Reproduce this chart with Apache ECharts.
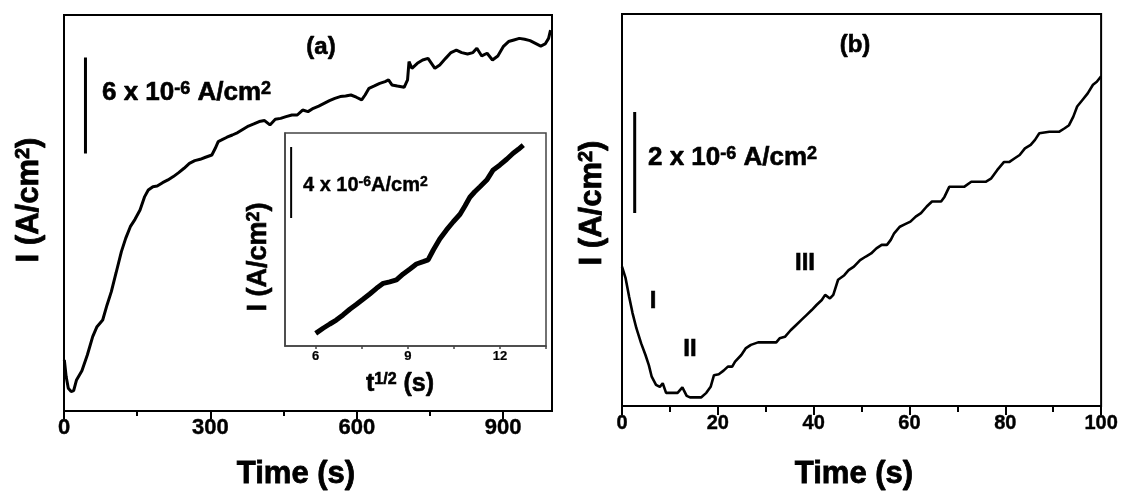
<!DOCTYPE html>
<html>
<head>
<meta charset="utf-8">
<script src="https://cdn.jsdelivr.net/npm/echarts@6/dist/echarts.min.js"></script>
<style>html,body{margin:0;padding:0;background:#fff}#c{width:1121px;height:493px}</style>
</head>
<body>
<div id="c"></div>
<script>
// Panel (a): chronoamperometric current vs time (I in µA/cm², arbitrary baseline)
const aTime = [0.7,4.4,8.8,14.7,19.8,25.7,36.7,47.8,58.8,67.6,79.3,88.2,97,106.5,117.6,126.4,135.9,145.5,155.8,165.3,172.7,182.2,191,202,213,224,235,246,257,268,279,290,303,310,316,323,334,345,356,367,378,389,400,411,422,433,444,455,467,478,489,500,511,522,533,544,555,566,577,588,599,610,617,625,636,647,658,665,672,683,697,704,707,713,724,735,746,753,760,770,782,793,804,815,827,838,846,856,867,878,889,900,911,922,933,944,955,966,977,986,993,997];
const aCurrent = [3.19,2.15,1.42,1.21,1.27,1.94,2.52,3.50,4.65,5.27,5.69,6.63,7.46,8.61,9.96,10.79,11.52,11.98,12.56,13.40,13.81,14.02,14.06,14.27,14.44,14.65,14.90,15.17,15.48,15.65,15.73,15.86,16.00,16.42,16.84,16.94,17.11,17.25,17.40,17.61,17.81,17.94,18.09,18.15,17.88,18.23,18.29,18.40,18.50,18.50,18.81,18.71,18.92,19.06,19.23,19.40,19.54,19.65,19.69,19.75,19.61,19.44,19.75,20.17,20.32,20.48,20.59,20.69,20.38,20.31,20.23,20.69,21.84,21.42,21.73,21.94,22.04,21.73,21.42,21.63,22.04,22.40,22.56,22.40,22.31,22.40,22.67,22.19,22.36,21.94,22.19,22.77,23.09,23.19,23.29,23.23,23.15,22.98,22.81,22.94,23.29,23.81];
// Inset: current vs t^(1/2)
const insetSqrtT = [6.0,6.24,6.46,6.67,6.89,7.11,7.33,7.54,7.76,7.98,8.20,8.41,8.63,8.85,9.07,9.28,9.50,9.66,9.83,10.04,10.26,10.48,10.70,10.86,11.02,11.18,11.35,11.57,11.78,12.00,12.22,12.43,12.60,12.76];
const insetCurrent = [0.71,1.00,1.24,1.46,1.75,2.07,2.35,2.63,2.93,3.25,3.53,3.61,3.72,4.06,4.34,4.62,4.75,4.85,5.41,6.03,6.54,7.00,7.42,7.89,8.38,8.69,8.97,9.35,9.92,10.20,10.52,10.86,11.08,11.32];
// Panel (b): current vs time, first 100 s
const bTime = [0,0.75,1.5,2.2,3.0,4.0,4.9,5.6,6.2,7.1,7.9,8.5,9.2,11.6,12.6,13.5,14.2,16.5,17.6,18.5,19.2,20.2,21.2,22.1,23.0,23.6,24.9,25.8,26.9,28.4,32.2,32.9,34.0,35.2,36.3,37.4,38.5,39.6,40.6,41.7,42.4,43.4,44.1,45.1,46.4,47.3,48.4,49.7,50.9,52.0,53.1,54.2,55.3,56.1,56.8,58.0,59.1,60.2,61.3,62.4,63.6,64.7,66.6,67.3,68.3,71.4,72.9,75.9,77.0,78.3,79.7,80.8,81.9,83.0,84.1,85.3,86.2,87.1,89.2,91.2,92.4,93.3,94.2,95.0,96.1,97.2,98.3,99.1,100];
const bCurrent = [2.76,2.53,2.16,1.84,1.54,1.24,1.01,0.81,0.58,0.42,0.38,0.45,0.26,0.26,0.37,0.20,0.17,0.17,0.26,0.38,0.61,0.63,0.70,0.78,0.78,0.88,1.01,1.14,1.21,1.26,1.26,1.34,1.37,1.50,1.60,1.70,1.80,1.90,2.00,2.10,2.20,2.13,2.20,2.50,2.59,2.69,2.76,2.89,2.96,3.02,3.12,3.19,3.19,3.29,3.42,3.55,3.60,3.65,3.75,3.82,3.95,4.05,4.05,4.14,4.34,4.34,4.44,4.44,4.50,4.67,4.83,4.83,4.90,4.97,5.10,5.17,5.27,5.40,5.43,5.43,5.50,5.56,5.73,5.93,6.06,6.19,6.36,6.42,6.53];
// Scale bars [x, yStart, length]
const aScaleBar = [44, 16.1, 6];
const bScaleBar = [2.65, 3.82, 2];
const insetScaleBar = [5.2, 7.21, 4];
// Tick labels
const aTicks = [0, 300, 600, 900];
const aMinorTicks = [150, 450, 750];
const insetLabels = [6, 9, 12];
const insetTicks = [6, 7.5, 9, 10.5, 12, 13.5];

const FF = '"Liberation Sans", Arial, Helvetica, sans-serif';
const zip = (xs, ys) => xs.map((x, i) => [x, ys[i]]);
const bar = b => [[b[0], b[1]], [b[0], b[1] + b[2]]];

const chart = echarts.init(document.getElementById('c'));
const lbl = (size, extra) => Object.assign({color: '#000', fontSize: size, fontWeight: 'bold', fontFamily: FF, textBorderColor: '#000', textBorderWidth: 0.4}, extra || {});
const blackLine = w => ({lineStyle: {color: '#000', width: w}});

const option = {
  animation: false,
  backgroundColor: '#fff',
  grid: [
    {left: 64, top: 15, width: 488, height: 396, show: true, borderColor: '#000', borderWidth: 2, backgroundColor: 'transparent'},
    {left: 622, top: 14, width: 480, height: 392, show: true, borderColor: '#000', borderWidth: 2, backgroundColor: 'transparent'},
    {left: 285, top: 133, width: 261, height: 213, show: true, borderColor: '#444', borderWidth: 1.5, backgroundColor: '#fff'}
  ],
  xAxis: [
    {gridIndex: 0, type: 'value', min: 0, max: 1000, position: 'bottom',
      axisLine: blackLine(2), splitLine: {show: false},
      axisTick: {length: 8, lineStyle: {color: '#000', width: 2}, customValues: aTicks},
      axisLabel: lbl(22, {margin: 6, customValues: aTicks})},
    {gridIndex: 0, type: 'value', min: 0, max: 1000, position: 'bottom',
      axisLine: {show: false}, splitLine: {show: false},
      axisTick: {length: 5, lineStyle: {color: '#000', width: 2}, customValues: aMinorTicks},
      axisLabel: {show: false}},
    {gridIndex: 1, type: 'value', min: 0, max: 100, interval: 20, position: 'bottom',
      axisLine: blackLine(2), splitLine: {show: false},
      axisTick: {length: 9, lineStyle: {color: '#000', width: 2}},
      minorTick: {show: true, splitNumber: 2, length: 6, lineStyle: {color: '#000', width: 2}},
      minorSplitLine: {show: false},
      axisLabel: lbl(20, {margin: 7})},
    {gridIndex: 2, type: 'value', min: 5, max: 13.5, position: 'bottom',
      axisLine: {lineStyle: {color: '#444', width: 1.5}}, splitLine: {show: false},
      axisTick: {length: 3, lineStyle: {color: '#444', width: 1.5}, customValues: insetTicks},
      axisLabel: lbl(13, {margin: 4, customValues: insetLabels, textBorderWidth: 0.2})}
  ],
  yAxis: [
    {gridIndex: 0, type: 'value', min: 0, max: 24.75, axisLine: blackLine(2), axisTick: {show: false}, axisLabel: {show: false}, splitLine: {show: false}},
    {gridIndex: 1, type: 'value', min: 0, max: 7.762, axisLine: blackLine(2), axisTick: {show: false}, axisLabel: {show: false}, splitLine: {show: false}},
    {gridIndex: 2, type: 'value', min: 0, max: 12, axisLine: {lineStyle: {color: '#444', width: 1.5}}, axisTick: {show: false}, axisLabel: {show: false}, splitLine: {show: false}}
  ],
  series: [
    {type: 'line', xAxisIndex: 0, yAxisIndex: 0, data: zip(aTime, aCurrent), showSymbol: false, lineStyle: {color: '#000', width: 3}, z: 3},
    {type: 'line', xAxisIndex: 0, yAxisIndex: 0, data: bar(aScaleBar), showSymbol: false, lineStyle: {color: '#000', width: 3}},
    {type: 'line', xAxisIndex: 2, yAxisIndex: 1, data: zip(bTime, bCurrent), showSymbol: false, lineStyle: {color: '#000', width: 2.6}},
    {type: 'line', xAxisIndex: 2, yAxisIndex: 1, data: bar(bScaleBar), showSymbol: false, lineStyle: {color: '#000', width: 3}},
    {type: 'line', xAxisIndex: 3, yAxisIndex: 2, data: zip(insetSqrtT, insetCurrent), showSymbol: false, lineStyle: {color: '#000', width: 5}, z: 5},
    {type: 'line', xAxisIndex: 3, yAxisIndex: 2, data: bar(insetScaleBar), showSymbol: false, lineStyle: {color: '#000', width: 2}, z: 5}
  ],
  graphic: []
};

function txt(x, y, text, size, opts) {
  opts = opts || {};
  const sw = opts.sw === undefined ? 0.6 : opts.sw;
  return {
    type: 'text', x: x, y: y, rotation: opts.rotation || 0, z: 100,
    style: {
      text: text, fill: '#000', fontSize: size, fontWeight: 'bold', fontFamily: FF,
      stroke: '#000', lineWidth: sw,
      align: opts.align || 'center', verticalAlign: opts.va || 'middle',
      rich: {
        n: {fontSize: size, fontWeight: 'bold', fontFamily: FF, verticalAlign: 'bottom', fill: '#000', stroke: '#000', lineWidth: sw},
        s: {fontSize: opts.sup || Math.round(size * 0.68), fontWeight: 'bold', fontFamily: FF, verticalAlign: 'top', fill: '#000', stroke: '#000', lineWidth: sw}
      }
    }
  };
}

option.graphic = [
  txt(321, 47, '(a)', 24),
  txt(855, 45, '(b)', 24),
  txt(102, 93, '{n|6 x 10}{s|-6}{n| A/cm}{s|2}', 26, {align: 'left', sup: 18}),
  txt(648, 158, '{n|2 x 10}{s|-6}{n| A/cm}{s|2}', 26, {align: 'left', sup: 18}),
  txt(303, 185, '{n|4 x 10}{s|-6}{n|A/cm}{s|2}', 20, {align: 'left', sup: 14, sw: 0.4}),
  txt(653, 301, 'I', 24),
  txt(690, 349, 'II', 24),
  txt(805, 263, 'III', 24),
  txt(296, 474, 'Time (s)', 31, {sw: 0.8}),
  txt(854, 474, 'Time (s)', 31, {sw: 0.8}),
  txt(400, 384, '{n|t}{s|1/2}{n| (s)}', 25, {sup: 16}),
  txt(29, 200, '{n|I (A/cm}{s|2}{n|)}', 31, {rotation: Math.PI / 2, sup: 20, sw: 0.8}),
  txt(592, 203, '{n|I (A/cm}{s|2}{n|)}', 31, {rotation: Math.PI / 2, sup: 20, sw: 0.8}),
  txt(259, 257, '{n|I (A/cm}{s|2}{n|)}', 27, {rotation: Math.PI / 2, sup: 18})
];

chart.setOption(option);
</script>
</body>
</html>
